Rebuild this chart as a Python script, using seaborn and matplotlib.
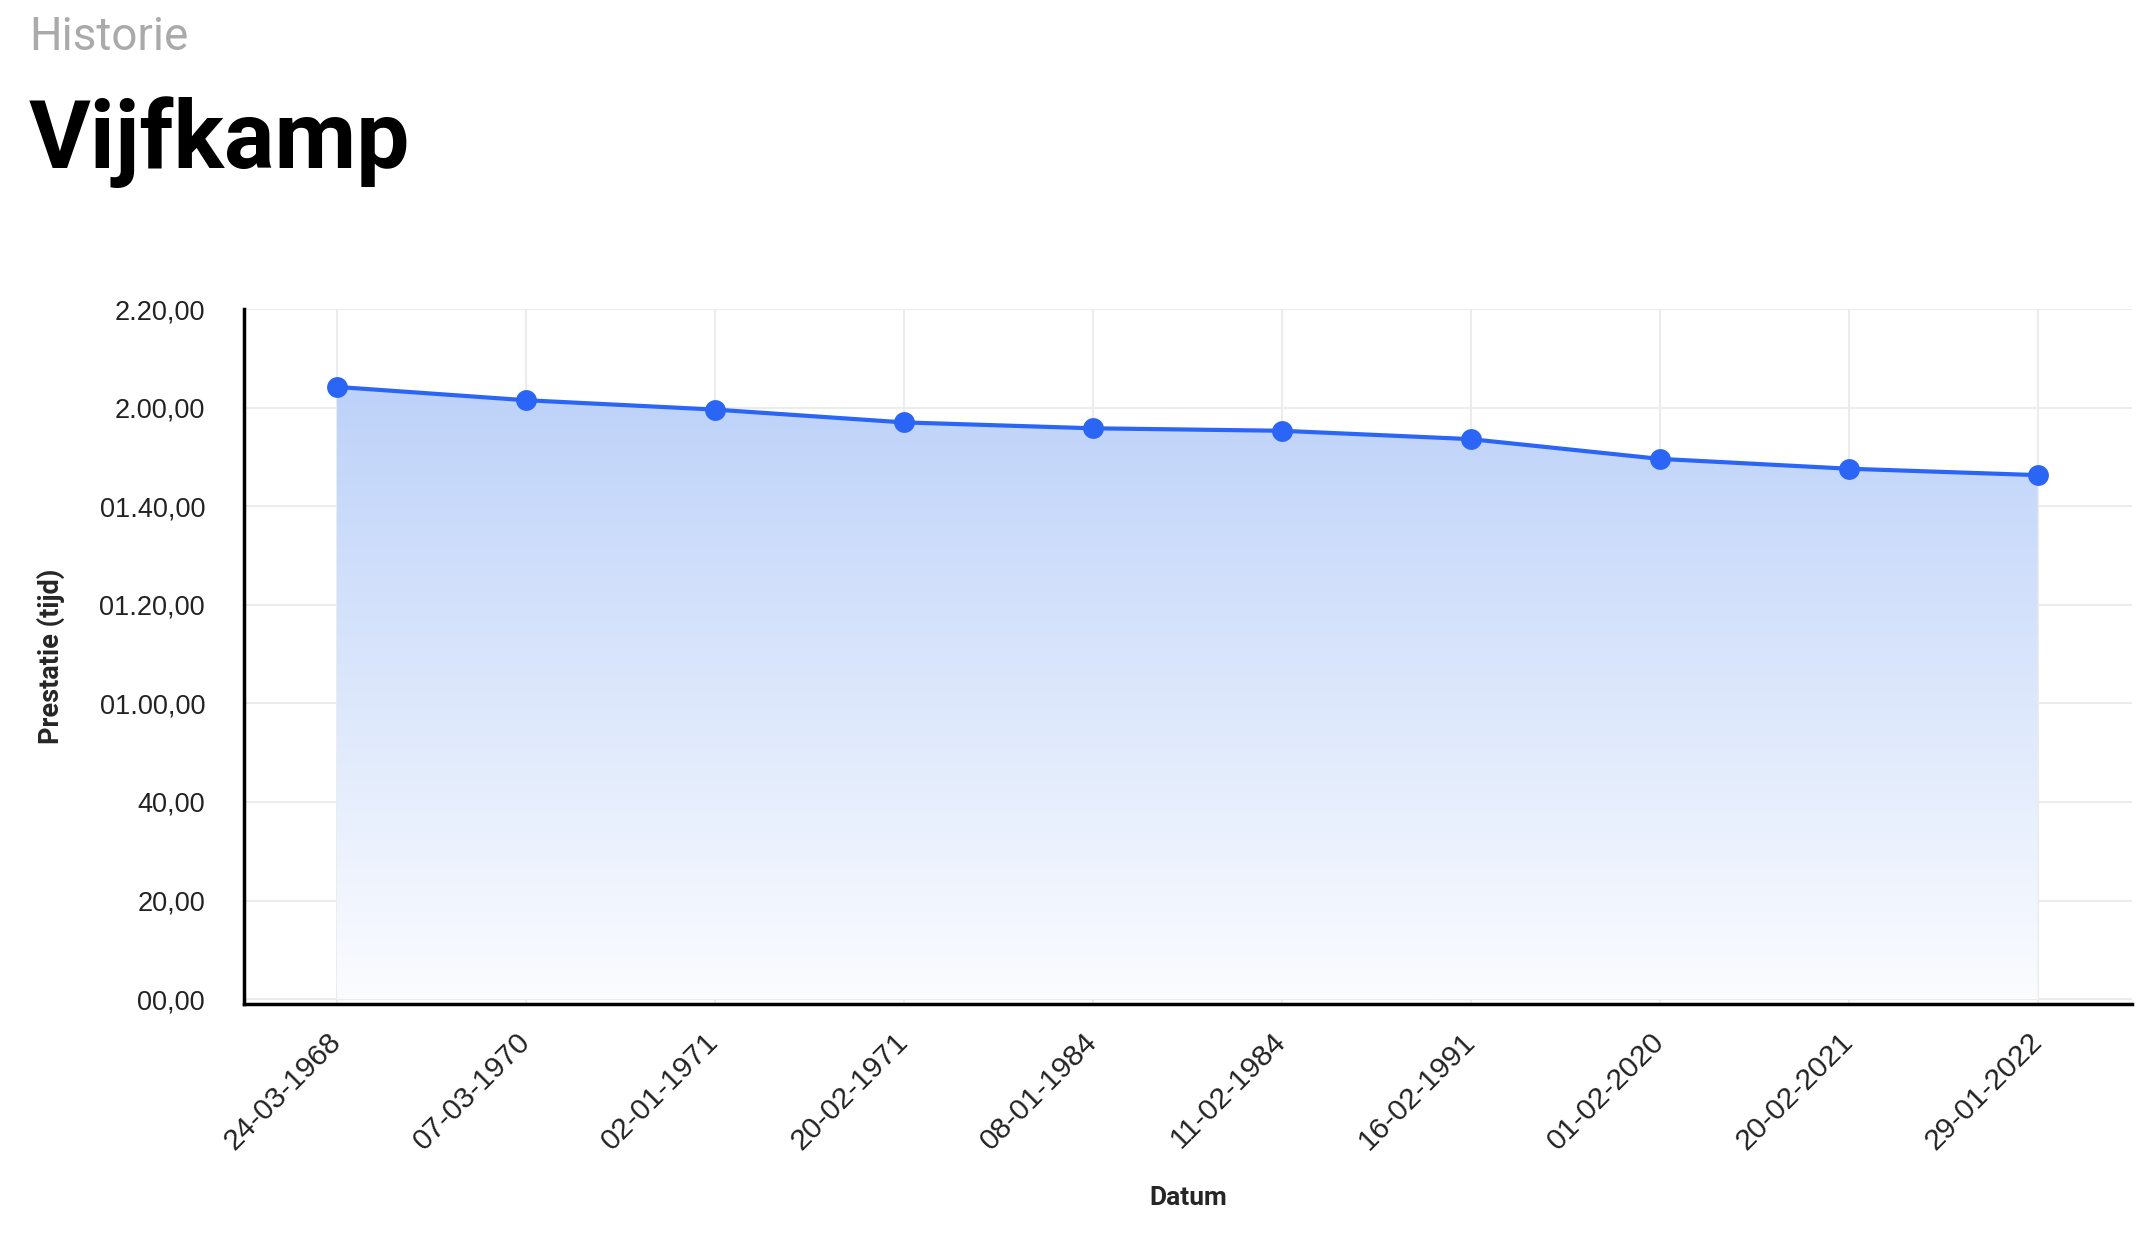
import numpy as np
import pandas as pd
from matplotlib import pyplot as plt
from matplotlib.colors import LinearSegmentedColormap
from matplotlib.patches import Polygon
import seaborn as sns

# dates (x categories) and performance in seconds
dates = ['24-03-1968', '07-03-1970', '02-01-1971', '20-02-1971', '08-01-1984',
         '11-02-1984', '16-02-1991', '01-02-2020', '20-02-2021', '29-01-2022']
seconds = [124.2, 121.5, 119.6, 117.0, 115.8, 115.3, 113.6, 109.6, 107.6, 106.3]
ytick_values = [0, 20, 40, 60, 80, 100, 120, 140]
ytick_labels = ['00,00', '20,00', '40,00', '01.00,00', '01.20,00', '01.40,00', '2.00,00', '2.20,00']

df = pd.DataFrame({'Datum': dates, 'Prestatie': seconds})

sns.set_style("whitegrid")
plt.rcParams['font.family'] = ['Liberation Sans', 'DejaVu Sans']

fig = plt.figure(figsize=(21.46, 12.40), dpi=100)
ax = fig.add_axes([0.1137, 0.1903, 0.8798, 0.5605])

line_color = '#2b65f6'
sns.lineplot(x='Datum', y='Prestatie', data=df, marker='o', markersize=15,
             markeredgewidth=0, color=line_color, linewidth=3, ax=ax, zorder=4)

# gradient fill under the line
xs = np.arange(len(dates))
verts = [(xs[0], 0)] + list(zip(xs, seconds)) + [(xs[-1], 0)]
poly = Polygon(verts, closed=True, facecolor='none', edgecolor='none')
ax.add_patch(poly)
cmap = LinearSegmentedColormap.from_list('fill', ['#fbfcff', '#bdd2f9'])
grad = np.linspace(0, 1, 256).reshape(-1, 1)
im = ax.imshow(grad, extent=[xs[0], xs[-1], 0, max(seconds)], origin='lower',
               aspect='auto', cmap=cmap, zorder=1)
im.set_clip_path(poly)

ax.set_xlim(-0.49, len(dates) - 0.5)
ax.set_ylim(-1, 140)
ax.set_yticks(ytick_values)
ax.set_yticklabels(ytick_labels)
ax.set_xticks(xs)
ax.set_xticklabels(dates, rotation=45, ha='right', va='center', rotation_mode='anchor')

ax.grid(True, color='#ececec', linewidth=1.5)
ax.set_axisbelow(True)
for side in ['top', 'right']:
    ax.spines[side].set_visible(False)
for side in ['left', 'bottom']:
    ax.spines[side].set_visible(True)
    ax.spines[side].set_color('black')
    ax.spines[side].set_linewidth(2.5)
ax.tick_params(axis='both', length=0, colors='#222222')
ax.tick_params(axis='y', labelsize=19.5, pad=28)
ax.tick_params(axis='x', labelsize=21.5, pad=24)

ax.set_xlabel('Datum', fontsize=19, fontweight='bold', family=['Roboto', 'DejaVu Sans'],
              labelpad=22)
ax.set_ylabel('Prestatie (tijd)', fontsize=19.5, fontweight='bold', family=['Roboto', 'DejaVu Sans'])
ax.yaxis.set_label_coords(-0.095, 0.5)

fig.text(0.0135, 1 - 50 / 1240, 'Historie', fontsize=33, color='#aaaaaa',
         family=['Roboto', 'DejaVu Sans'], va='baseline', ha='left')
fig.text(0.0135, 1 - 168 / 1240, 'Vijfkamp', fontsize=68, fontweight='bold',
         family=['Roboto', 'DejaVu Sans'], va='baseline', ha='left', color='black')

plt.savefig('out.png', dpi=100)
